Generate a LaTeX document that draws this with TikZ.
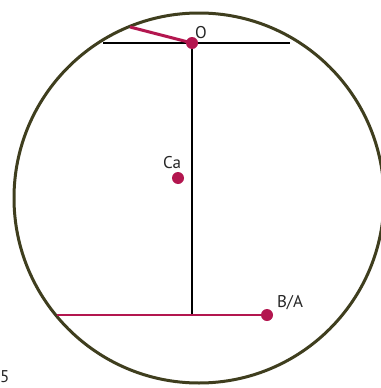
\documentclass[tikz,border=0pt]{standalone}
\usepackage{fontspec}
\setmainfont{PT Sans}
\definecolor{rim}{HTML}{3F3E1E}
\definecolor{crim}{HTML}{B3164F}
\begin{document}
\begin{tikzpicture}[x=1pt,y=-1pt,
  dotnode/.style={circle,fill=crim,inner sep=0pt,minimum size=12pt},
  lbl/.style={font=\fontsize{17}{19}\selectfont,inner sep=0pt,text=black!85}]
\useasboundingbox[fill=white] (0,0) rectangle (380,388);
\draw[rim,line width=3pt] (199,198) circle (185);
\coordinate (hl) at (103,43);
\coordinate (hr) at (290,43);
\coordinate (pt) at (130,27);
\coordinate (foot) at (192,315);
\coordinate (pl) at (57,315);
\draw[black,line width=1.6pt] (hl) -- (hr);
\draw[black,line width=1.6pt] (192,43) -- (foot);
\draw[crim,line width=1.4pt] (pl) -- (267,315);
\draw[crim,line width=3pt] (pt) -- (192,43);
\node[dotnode] (O) at (192,43) {};
\node[dotnode] (Ca) at (178,178) {};
\node[dotnode] (BA) at (267,315) {};
\node[lbl] (tO) at (201,33) {O};
\node[lbl] (tCa) at (172,163) {Ca};
\node[lbl] (tBA) at (290,303) {B/A};
\node[lbl,anchor=west] (t5) at (0,377) {5};
\end{tikzpicture}
\end{document}
